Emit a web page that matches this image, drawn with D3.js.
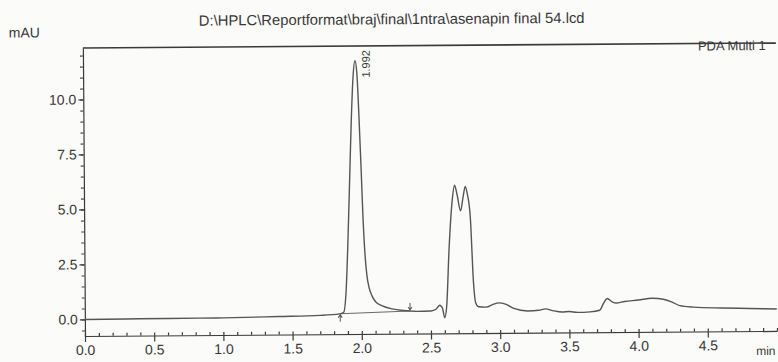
<!DOCTYPE html>
<html>
<head>
<meta charset="utf-8">
<script src="https://cdn.jsdelivr.net/npm/d3@7"></script>
<style>
  body { margin: 0; background: #fbfbfa; }
  text { font-family: "Liberation Sans", Arial, sans-serif; fill: #383838; }
</style>
</head>
<body>
<div id="chart-area"></div>
<script>
// retention time (min) and absorbance (mAU)
const times = [0.0, 0.3, 0.6, 1.0, 1.4, 1.7, 1.84, 1.87, 1.89, 1.905, 1.92, 1.935, 1.95, 1.965, 1.978, 1.99,
  2.003, 2.015, 2.027, 2.04, 2.055, 2.075, 2.1, 2.15, 2.22, 2.3, 2.4, 2.5, 2.54, 2.565, 2.585, 2.6, 2.615,
  2.635, 2.66, 2.678, 2.695, 2.72, 2.74, 2.755, 2.77, 2.79, 2.81, 2.825, 2.845, 2.9, 2.95, 2.99, 3.04, 3.1,
  3.2, 3.28, 3.33, 3.38, 3.45, 3.5, 3.56, 3.65, 3.72, 3.75, 3.775, 3.81, 3.84, 3.9, 4.0, 4.1, 4.18, 4.24,
  4.3, 4.4, 4.6, 4.8, 5.0]
const signal = [0.0, 0.01, 0.02, 0.03, 0.07, 0.11, 0.17, 0.24, 1.31, 3.51, 6.21, 8.91, 10.91, 11.67, 11.11, 9.31,
  6.91, 4.51, 2.91, 1.91, 1.36, 0.99, 0.72, 0.52, 0.38, 0.30, 0.26, 0.27, 0.36, 0.53, 0.38, -0.04, 0.48,
  3.08, 5.28, 5.98, 5.58, 4.81, 5.48, 5.92, 5.57, 4.54, 1.53, 0.62, 0.45, 0.43, 0.55, 0.62, 0.56, 0.36,
  0.24, 0.27, 0.33, 0.25, 0.18, 0.20, 0.16, 0.18, 0.25, 0.58, 0.78, 0.63, 0.57, 0.64, 0.70, 0.78, 0.73, 0.61,
  0.43, 0.36, 0.31, 0.28, 0.25]

// integrated peak (label) and its start / end markers
const peakRT = [1.992]
const peakTop = [10.9]
const markStart = [1.845, 0.18]
const markEnd = [2.35, 0.28]

const xTicks = [0.0, 0.5, 1.0, 1.5, 2.0, 2.5, 3.0, 3.5, 4.0, 4.5]
const yTicks = [0.0, 2.5, 5.0, 7.5, 10.0]

const title = "D:\\HPLC\\Reportformat\\braj\\final\\1ntra\\asenapin final 54.lcd"

const width = 778, height = 362

const svg = d3.select("#chart-area").append("svg")
    .attr("width", width)
    .attr("height", height)

// the scanned page is a little tilted, so turn the whole plot the same way
const g = svg.append("g")
    .attr("transform", "rotate(-0.42 85 336)")

const x = d3.scaleLinear().domain([0, 5]).range([85, 777])
const y = d3.scaleLinear().domain([0, 10]).range([319.5, 99.5])

// title + units
g.append("text")
    .attr("x", 394).attr("y", 26.5)
    .attr("text-anchor", "middle")
    .attr("font-size", 14.8)
    .text(title)

g.append("text")
    .attr("x", 11).attr("y", 37)
    .attr("font-size", 14)
    .text("mAU")

g.append("text")
    .attr("x", 700).attr("y", 55)
    .attr("font-size", 13)
    .text("PDA Multi 1")

g.append("text")
    .attr("x", 756).attr("y", 360)
    .attr("font-size", 12)
    .text("min")

// top border
g.append("line")
    .attr("x1", 85).attr("x2", 778)
    .attr("y1", 48).attr("y2", 48)
    .attr("stroke", "#3a3a3a")
    .attr("stroke-width", 1.6)

// x axis
const xAxis = g.append("g")
    .attr("transform", "translate(0,336)")
    .call(d3.axisBottom(x).tickValues(xTicks).tickSize(6).tickSizeOuter(0).tickPadding(3)
        .tickFormat(d3.format(".1f")))
xAxis.selectAll("text").attr("font-size", 14).attr("font-family", null)

g.append("g")
    .attr("transform", "translate(0,336)")
    .call(d3.axisTop(x).tickValues(d3.range(0, 50.5, 1).map(d => d / 10)).tickSize(3).tickFormat(""))
    .call(a => a.select(".domain").remove())

// y axis
const yAxis = g.append("g")
    .attr("transform", "translate(85,0)")
    .call(d3.axisLeft(y.copy().domain([-0.76, 12.34]).range([336, 48])).tickValues(yTicks).tickSize(5)
        .tickSizeOuter(0).tickPadding(2).tickFormat(d3.format(".1f")))
yAxis.selectAll("text").attr("font-size", 14).attr("font-family", null)

g.append("g")
    .attr("transform", "translate(85,0)")
    .call(d3.axisLeft(y).tickValues(d3.range(-1, 25, 1).map(d => d / 2)).tickSize(3).tickFormat(""))
    .call(a => a.select(".domain").remove())

g.selectAll(".domain, .tick line").attr("stroke", "#3a3a3a").attr("stroke-width", 1.2)

// integration baseline + markers
g.append("line")
    .attr("x1", x(markStart[0])).attr("y1", y(markStart[1]))
    .attr("x2", x(markEnd[0])).attr("y2", y(markEnd[1]))
    .attr("stroke", "#6a6a6a")
    .attr("stroke-width", 1)

g.append("path")
    .attr("d", `M${x(markStart[0])},${y(markStart[1]) + 8}V${y(markStart[1]) + 1}` +
        `M${x(markStart[0]) - 2},${y(markStart[1]) + 4}L${x(markStart[0])},${y(markStart[1]) + 1}L${x(markStart[0]) + 2},${y(markStart[1]) + 4}`)
    .attr("fill", "none").attr("stroke", "#555").attr("stroke-width", 1)

g.append("path")
    .attr("d", `M${x(markEnd[0])},${y(markEnd[1]) - 8}V${y(markEnd[1]) - 1}` +
        `M${x(markEnd[0]) - 2},${y(markEnd[1]) - 4}L${x(markEnd[0])},${y(markEnd[1]) - 1}L${x(markEnd[0]) + 2},${y(markEnd[1]) - 4}`)
    .attr("fill", "none").attr("stroke", "#555").attr("stroke-width", 1)

// chromatogram trace
const data = times.map((t, i) => ({ t: t, v: signal[i] }))

const line = d3.line()
    .x(d => x(d.t))
    .y(d => y(d.v))
    .curve(d3.curveMonotoneX)

g.append("path")
    .datum(data)
    .attr("d", line)
    .attr("fill", "none")
    .attr("stroke", "#555")
    .attr("stroke-width", 1.4)

// peak label
g.selectAll(".peak-label")
    .data(peakRT)
    .enter().append("text")
    .attr("class", "peak-label")
    .attr("transform", (d, i) => `translate(${x(d) + 11},${y(peakTop[i])}) rotate(-90)`)
    .attr("font-size", 11)
    .text(d => d.toFixed(3))
</script>
</body>
</html>
